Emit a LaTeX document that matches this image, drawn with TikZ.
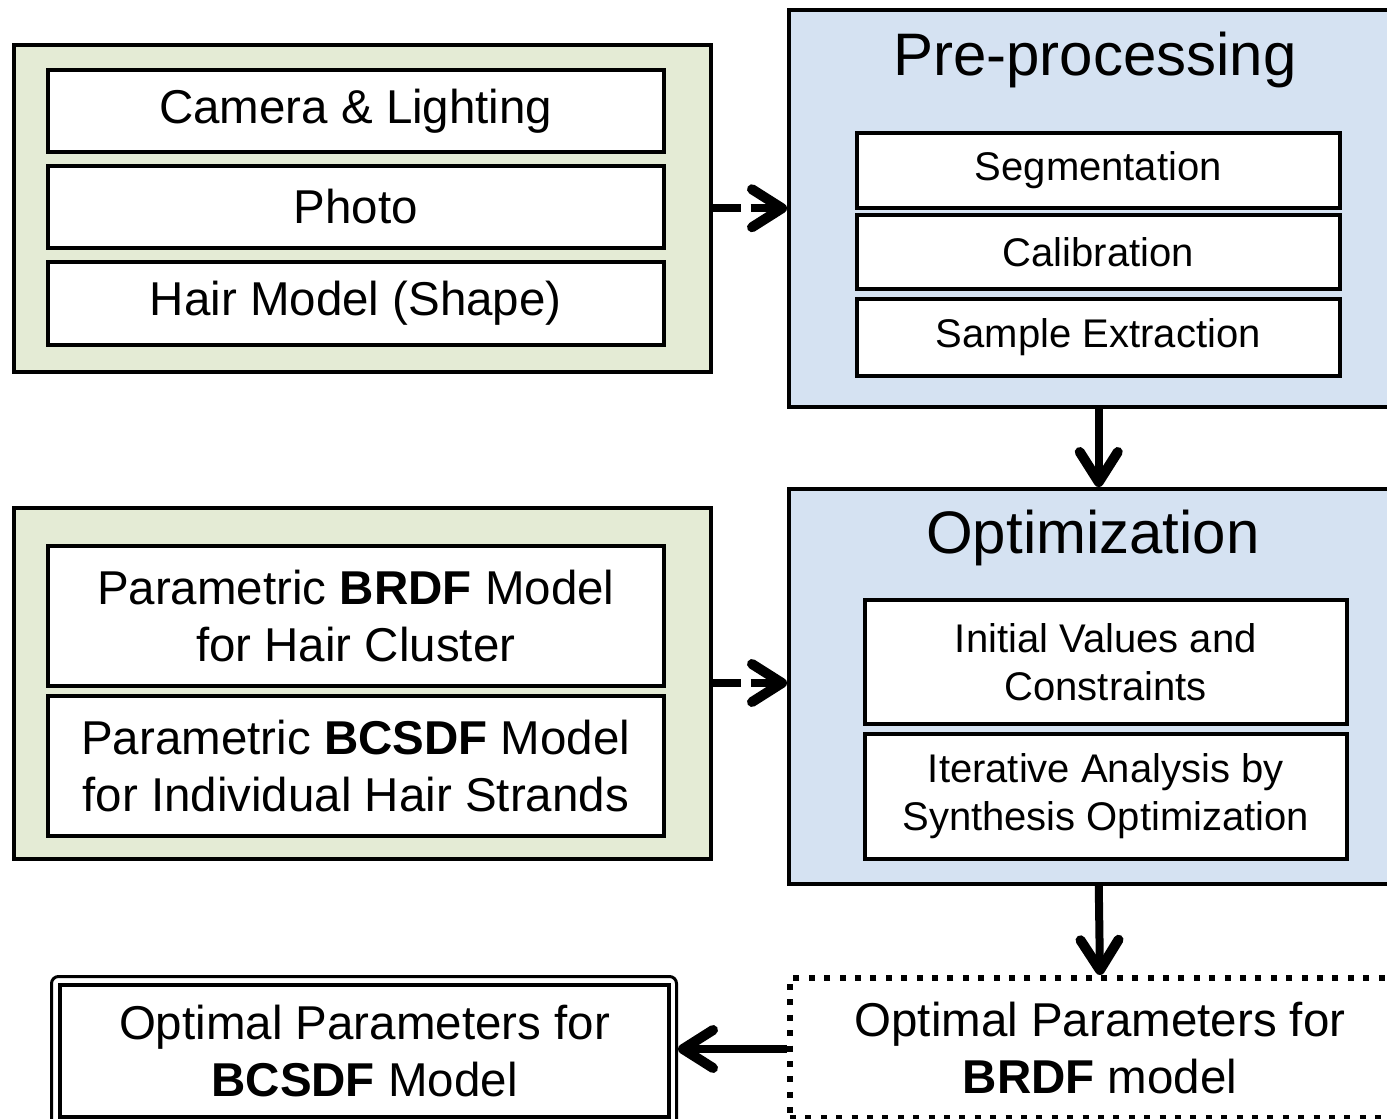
\documentclass[tikz,border=0pt]{standalone}
\usepackage{fontspec}
\setmainfont{Liberation Sans}
\usetikzlibrary{arrows.meta}
\definecolor{boxgreen}{HTML}{E4EBD5}
\definecolor{boxblue}{HTML}{D5E2F2}
\begin{document}
\begin{tikzpicture}[x=1pt,y=-1pt,
  container/.style={draw=black, line width=3.5pt, rectangle, inner sep=0pt, anchor=north west},
  inbox/.style={draw=black, fill=white, line width=3.5pt, rectangle, inner sep=0pt, anchor=north west, align=center},
  bigtxt/.style={font=\fontsize{47.5}{57}\selectfont},
  midtxt/.style={font=\fontsize{40}{48}\selectfont},
  titletxt/.style={font=\fontsize{60}{72}\selectfont, inner sep=0pt},
  arr/.style={line width=8pt, -{Straight Barb[length=30pt,width=38pt,line width=10pt,round]}},
  dasharr/.style={arr, dash pattern=on 28pt off 10pt}
]
\useasboundingbox (0,0) rectangle (1387,1119);
\clip (0,0) rectangle (1387,1119);
\fill[white] (0,0) rectangle (1387,1119);

% containers
\node[container, fill=boxgreen, minimum width=697pt, minimum height=327pt] (g1) at (12,43) {};
\node[container, fill=boxblue, minimum width=620pt, minimum height=397pt] (pre) at (787,8) {};
\node[container, fill=boxgreen, minimum width=697pt, minimum height=351pt] (g2) at (12,506) {};
\node[container, fill=boxblue, minimum width=620pt, minimum height=395pt] (opt) at (787,487) {};
\node[container, draw=black, line width=6pt, dash pattern=on 6pt off 9.4pt, minimum width=620pt, minimum height=140pt] (res) at (787,975) {};
\node[container, line width=3pt, rounded corners=7pt, minimum width=625pt, minimum height=175pt] (bcout) at (50,975) {};

% titles
\node[titletxt] (pretitle) at (1095,60) {Pre-processing};
\node[titletxt] (opttitle) at (1093,538) {Optimization};

% inner boxes left top
\node[inbox, bigtxt, minimum width=616pt, minimum height=82pt] (cam) at (46,68) {Camera \& Lighting};
\node[inbox, bigtxt, minimum width=616pt, minimum height=82pt] (photo) at (46,164) {Photo};
\node[inbox, bigtxt, minimum width=616pt, minimum height=83pt] (hair) at (46,260) {Hair Model (Shape)};

% inner boxes right top
\node[inbox, midtxt, minimum width=483pt, minimum height=75pt] (seg) at (855,131) {Segmentation};
\node[inbox, midtxt, minimum width=483pt, minimum height=74pt] (cal) at (855,213) {Calibration};
\node[inbox, midtxt, minimum width=483pt, minimum height=77pt] (samp) at (855,297) {Sample Extraction};

% inner boxes left middle
\node[inbox, bigtxt, minimum width=616pt, minimum height=140pt] (brdf) at (46,544) {Parametric \textbf{BRDF} Model\\for Hair Cluster};
\node[inbox, bigtxt, minimum width=616pt, minimum height=140pt] (bcsdf) at (46,694) {Parametric \textbf{BCSDF} Model\\for Individual Hair Strands};

% inner boxes right middle
\node[inbox, midtxt, minimum width=482pt, minimum height=124pt] (init) at (863,598) {Initial Values and\\Constraints};
\node[inbox, midtxt, minimum width=482pt, minimum height=125pt] (iter) at (863,732) {Iterative Analysis by\\Synthesis Optimization};

% result texts
\node[bigtxt, align=center] (restxt) at (res.center) {Optimal Parameters for\\\textbf{BRDF} model};
\node[inbox, bigtxt, line width=4pt, minimum width=609pt, minimum height=132pt] (bc) at (58,983) {Optimal Parameters for\\\textbf{BCSDF} Model};

% connectors
\draw[dasharr] (g1.east) -- (pre.west);
\draw[dasharr] (g2.east |- 0,683) -- (opt.west |- 0,683);
\draw[arr] (pre.south) -- (opt.north);
\draw[arr] (opt.south) -- (res.north);
\draw[arr] (res.west |- 0,1049) -- (bcout.east |- 0,1049);
\end{tikzpicture}
\end{document}
